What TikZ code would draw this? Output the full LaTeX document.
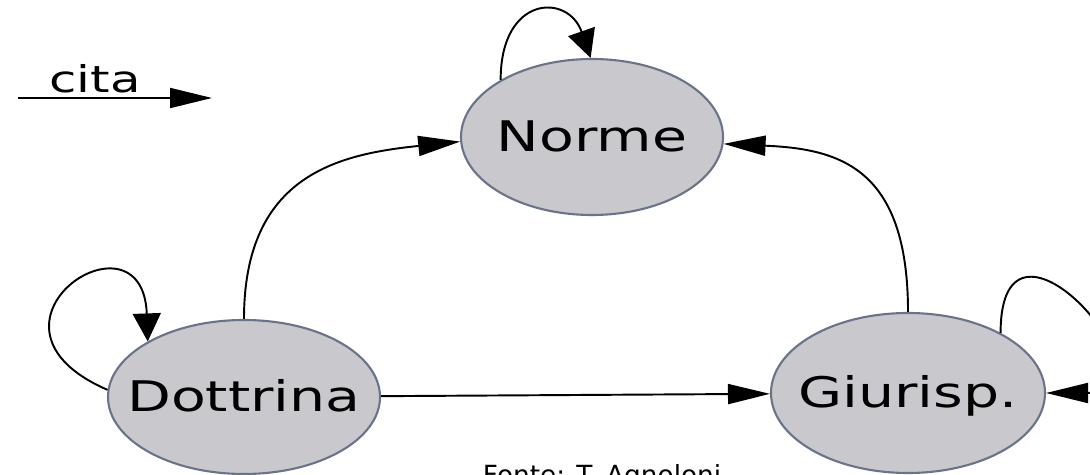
\documentclass[tikz,border=0pt]{standalone}
\usepackage{fontspec}
\usepackage{graphicx}
\usepackage{tikz}
\usetikzlibrary{arrows.meta,shapes.geometric,calc}
\newfontfamily\nodefont{DejaVu Sans}
\definecolor{grigio}{RGB}{200,200,205}
\definecolor{bordo}{RGB}{105,115,138}
\newcommand{\largo}[1]{\scalebox{1.35}[1]{#1}}
\newcommand{\largoz}[1]{\makebox[0pt]{\largo{#1}}}
\tikzset{
  stato/.style={ellipse, draw=bordo, fill=grigio, line width=1.2pt, inner sep=0pt,
                font=\nodefont\fontsize{24}{24}\selectfont, text height=17pt, text depth=0pt},
  harr/.style={-{Triangle[length=8.4mm, width=4mm]}, line width=1.1pt},
  varr/.style={-{Triangle[length=5.6mm, width=5.6mm]}, line width=1.1pt},
}
\begin{document}
\begin{tikzpicture}
  \fill[white] (0,0) rectangle (21.8,9.5);
  \useasboundingbox (0,0) rectangle (21.8,9.5);
  % legenda
  \coordinate (ca) at (0.36,7.54);
  \coordinate (cb) at (4.24,7.54);
  \node[font=\nodefont\fontsize{21}{21}\selectfont, anchor=base] (cita) at (1.9,7.64) {\largo{cita}};
  \draw[harr] (ca) -- (cb);
  % stati
  \node[stato, minimum width=5.24cm, minimum height=3.12cm] (norme) at (11.84,6.76) {\largoz{Norme}};
  \node[stato, minimum width=5.44cm, minimum height=3.08cm] (dottrina) at (4.88,1.56) {\largoz{Dottrina}};
  \node[stato, minimum width=5.48cm, minimum height=3.2cm] (giurisp) at (18.16,1.64) {\largoz{Giurisp.}};
  \node[font=\nodefont\fontsize{15}{15}\selectfont, anchor=base] (fonte) at (12.04,-0.2) {Fonte: T. Agnoloni};
  % citazioni
  \draw[varr] (norme.148) .. controls +(0,1.7) and +(-0.45,1.3) .. (norme.91);
  \draw[varr] (dottrina.177) .. controls +(-3.0,1.3) and +(-0.1,2.8) .. (dottrina.150);
  \draw[harr] (giurisp.33) .. controls +(0,3.1) and +(2.8,0) .. (giurisp.0);
  \draw[harr] (dottrina.north) .. controls +(0,2.9) and +(-2.4,-0.25) .. (norme.182);
  \draw[harr] (giurisp.north) .. controls +(0,2.9) and +(2.3,-0.1) .. (norme.357);
  \draw[harr] (dottrina) -- (giurisp);
\end{tikzpicture}
\end{document}
